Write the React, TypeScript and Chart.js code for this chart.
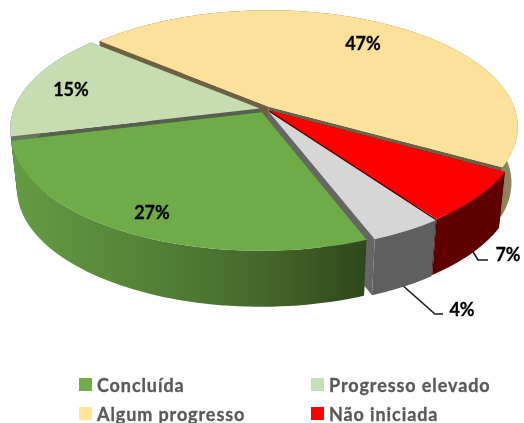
import React, { useEffect, useRef } from "react";
import { Chart, registerables } from "chart.js";

Chart.register(...registerables);

const categories = ["Concluída", "Progresso elevado", "Algum progresso", "Não iniciada", ""];
const values = [27, 15, 47, 7, 4];
const percentLabels = ["27%", "15%", "47%", "7%", "4%"];
const topColors = ["#6FAB47", "#C5DDB0", "#FBE199", "#FF0000", "#D6D6D6"];
const legendColors = ["#70AD47", "#C5E0B4", "#FFE699", "#FF0000"];
const cutColors = ["#4f7a33", "#565f50", "#6e6042", "#5a0000", "#666666"];
const offsets = [3.5, 2.5, 2.5, 2.5, 3];

const paintOrder = [2, 1, 3, 4, 0];
const labelSpots = [
  [152, 213],
  [71, 90],
  [363, 44],
  [508, 255],
  [462, 310],
];
const leaders = [
  null,
  null,
  null,
  [[466, 240], [478, 260], [488, 260]],
  [[392, 276], [435, 314], [443, 314]],
];

const SX = 2.295; // horizontal stretch of the pie plane
const SY = 1.06; // vertical squash of the pie plane
const PERSP = 0.17;
const DEPTH = 56;
const BASE_SHRINK = 0.975;

function sideFill(ctx: CanvasRenderingContext2D, i: number) {
  if (i === 0) {
    const g = ctx.createLinearGradient(14, 0, 366, 0);
    g.addColorStop(0, "#659b42");
    g.addColorStop(0.35, "#568438");
    g.addColorStop(0.7, "#45682c");
    g.addColorStop(1, "#2e481c");
    return g;
  }
  if (i === 2) {
    const g = ctx.createLinearGradient(430, 0, 520, 0);
    g.addColorStop(0, "#6e6042");
    g.addColorStop(1, "#94895f");
    return g;
  }
  if (i === 3) return "#5e0000";
  if (i === 4) return "#5f5f5f";
  return "#6a7562";
}

const pie3d = {
  id: "pie3d",
  beforeDatasetDraw(chart: any) {
    const ctx: CanvasRenderingContext2D = chart.ctx;
    const arcs = chart.getDatasetMeta(0).data;

    ctx.save();
    ctx.strokeStyle = "#1a1a1a";
    ctx.lineWidth = 1.6;
    leaders.forEach((pts) => {
      if (!pts) return;
      ctx.beginPath();
      pts.forEach((p, k) => (k ? ctx.lineTo(p[0], p[1]) : ctx.moveTo(p[0], p[1])));
      ctx.stroke();
    });
    ctx.restore();

    paintOrder.forEach((i) => {
      const arc = arcs[i];
      const { x, y, startAngle, endAngle, outerRadius } = arc.getProps([
        "x",
        "y",
        "startAngle",
        "endAngle",
        "outerRadius",
      ]);
      const mid = (startAngle + endAngle) / 2;
      const off = arc.options.offset / outerRadius;
      const ox = Math.cos(mid) * off;
      const oy = Math.sin(mid) * off;
      const project = (nx: number, ny: number, base: boolean) => {
        const px = nx + ox;
        const py = ny + oy;
        const s = 1 / (1 - PERSP * py);
        return [
          x + outerRadius * SX * px * s * (base ? BASE_SHRINK : 1),
          y + outerRadius * SY * py * s + (base ? DEPTH : 0),
        ];
      };
      const rim: number[][] = [];
      const steps = Math.max(4, Math.ceil((endAngle - startAngle) / 0.03));
      for (let k = 0; k <= steps; k++) {
        const a = startAngle + ((endAngle - startAngle) * k) / steps;
        rim.push([Math.cos(a), Math.sin(a)]);
      }
      const poly = (pts: number[][], fill: any) => {
        ctx.beginPath();
        pts.forEach((p, k) => (k ? ctx.lineTo(p[0], p[1]) : ctx.moveTo(p[0], p[1])));
        ctx.closePath();
        ctx.fillStyle = fill;
        ctx.fill();
      };
      const first = rim[0];
      const last = rim[rim.length - 1];
      // cut faces
      poly(
        [project(0, 0, false), project(first[0], first[1], false), project(first[0], first[1], true), project(0, 0, true)],
        cutColors[i]
      );
      poly(
        [project(0, 0, false), project(last[0], last[1], false), project(last[0], last[1], true), project(0, 0, true)],
        cutColors[i]
      );
      // outer wall
      poly(
        [
          ...rim.map((p) => project(p[0], p[1], false)),
          ...rim.slice().reverse().map((p) => project(p[0], p[1], true)),
        ],
        sideFill(ctx, i)
      );
      // top face
      poly([project(0, 0, false), ...rim.map((p) => project(p[0], p[1], false))], arc.options.backgroundColor);
    });
    return false;
  },
  afterDraw(chart: any) {
    const ctx: CanvasRenderingContext2D = chart.ctx;
    ctx.save();
    ctx.textBaseline = "middle";
    ctx.textAlign = "center";
    ctx.lineJoin = "round";
    ctx.fillStyle = "#000000";
    ctx.strokeStyle = "#000000";
    ctx.lineWidth = 0.3;
    ctx.font = "bold 18px Lato";
    percentLabels.forEach((t, i) => {
      ctx.fillText(t, labelSpots[i][0], labelSpots[i][1]);
      ctx.strokeText(t, labelSpots[i][0], labelSpots[i][1]);
    });

    ctx.textAlign = "left";
    (ctx as any).letterSpacing = "0.9px";
    const names = chart.data.labels as string[];
    const colX = [79, 311];
    const rowY = [384, 413];
    names.forEach((name, i) => {
      if (!name) return;
      const cx = colX[i % 2];
      const cy = rowY[Math.floor(i / 2)];
      ctx.fillStyle = legendColors[i];
      ctx.fillRect(cx, cy - 6, 13, 13);
      ctx.fillStyle = "#595959";
      ctx.strokeStyle = "#595959";
      ctx.fillText(name, cx + 18, cy + 2);
      ctx.strokeText(name, cx + 18, cy + 2);
    });
    ctx.restore();
  },
};

export default function App() {
  const ref = useRef<HTMLCanvasElement>(null);
  useEffect(() => {
    const chart = new Chart(ref.current!, {
      type: "pie",
      data: {
        labels: categories,
        datasets: [{ data: values, backgroundColor: topColors, offset: offsets, borderWidth: 0 }],
      },
      options: {
        responsive: false,
        animation: false,
        events: [],
        rotation: 159,
        layout: { padding: { left: 7, right: 0, top: 0, bottom: 205 } },
        plugins: { legend: { display: false }, tooltip: { enabled: false } },
      },
      plugins: [pie3d],
    } as any);
    return () => chart.destroy();
  }, []);
  return (
    <canvas
      ref={ref}
      width={524}
      height={423}
      style={{ position: "absolute", left: 0, top: 0, display: "block", background: "#fff" }}
    />
  );
}
